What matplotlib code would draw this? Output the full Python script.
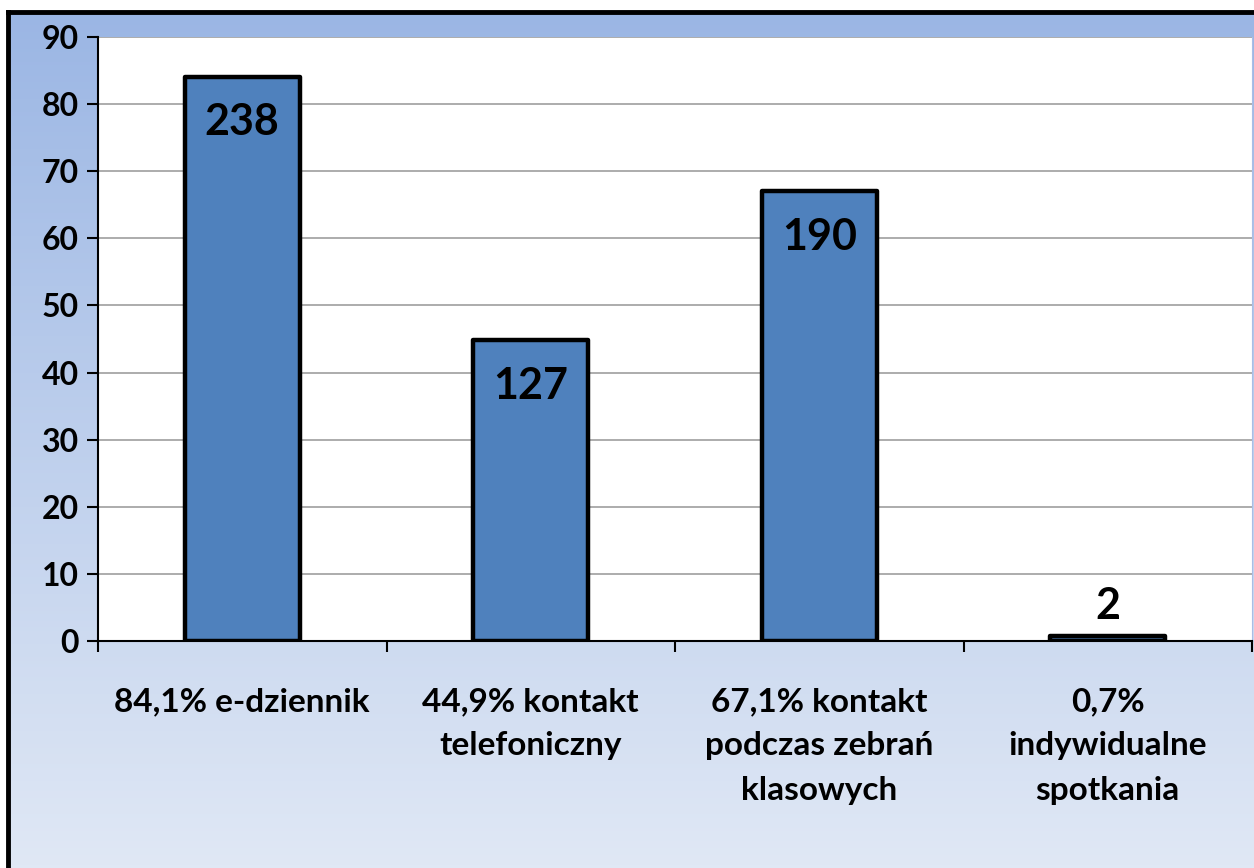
import matplotlib.pyplot as plt
import numpy as np

categories = ["84,1% e-dziennik", "44,9% kontakt\ntelefoniczny",
              "67,1% kontakt\npodczas zebrań\nklasowych", "0,7%\nindywidualne\nspotkania"]
percents = [84.1, 44.9, 67.1, 0.7]
counts = [238, 127, 190, 2]

plt.rcParams['font.family'] = ['Lato', 'DejaVu Sans']
plt.rcParams['font.weight'] = 'bold'

W, H = 1254, 868
fig = plt.figure(figsize=(W / 100, H / 100), dpi=100)

# gradient background with black frame on left/top
bg = fig.add_axes([8 / W, 0, 1 - 8 / W, (H - 12) / H])
top_c = np.array([155, 182, 228]) / 255
bot_c = np.array([224, 232, 245]) / 255
t = np.linspace(0, 1, 256)[:, None]
grad = top_c * (1 - t) + bot_c * t
bg.imshow(grad[:, None, :], aspect='auto', extent=[0, 1, 0, 1])
bg.set_xticks([])
bg.set_yticks([])
for s in ['right', 'bottom']:
    bg.spines[s].set_visible(False)
for s in ['left', 'top']:
    bg.spines[s].set_linewidth(3.5)
    bg.spines[s].set_color('black')

ax = fig.add_axes([98 / W, (H - 641) / H, (1252 - 98) / W, (641 - 37) / H])
ax.set_facecolor('white')
x = np.arange(len(categories))
bars = ax.bar(x, percents, width=0.4, color='#4f81bd', edgecolor='black',
              linewidth=3.2, joinstyle='round', zorder=3)
ax.set_xlim(-0.5, len(categories) - 0.5)
ax.set_ylim(0, 90)
ax.set_yticks(range(0, 91, 10))
ax.yaxis.grid(True, color='#a6a6a6', linewidth=1.3, zorder=0)
ax.set_axisbelow(True)
ax.tick_params(axis='y', labelsize=23, length=8, width=1.5, pad=6, direction='out')
ax.set_xticks(x)
ax.set_xticklabels(categories, fontsize=24, linespacing=1.65, va='top')
ax.tick_params(axis='x', length=0, pad=33)
ax.set_xticks(np.arange(-0.5, len(categories)), minor=True)
ax.tick_params(axis='x', which='minor', length=8, width=1.5, direction='out')
ax.spines['top'].set_visible(False)
ax.spines['right'].set_color('#a9bde6')
ax.spines['left'].set_linewidth(1.5)
ax.spines['bottom'].set_linewidth(1.5)

for i, (p, c) in enumerate(zip(percents, counts)):
    if p > 10:
        ax.annotate(str(c), (x[i], p), xytext=(0, -33), textcoords='offset points',
                    ha='center', va='center', fontsize=31, fontweight='bold', zorder=5)
    else:
        ax.annotate(str(c), (x[i], p), xytext=(0, 22), textcoords='offset points',
                    ha='center', va='center', fontsize=31, fontweight='bold', zorder=5)

fig.savefig('out.png', dpi=100)
